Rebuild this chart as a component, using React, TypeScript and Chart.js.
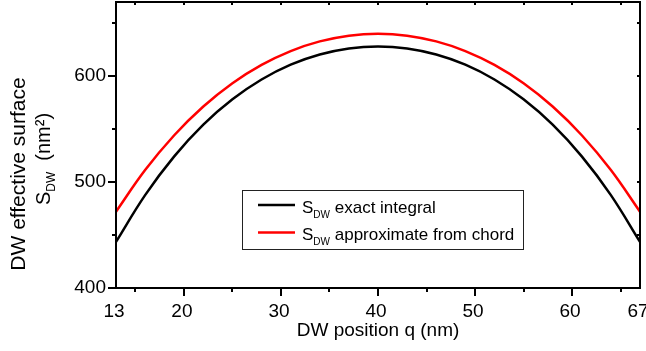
import React, { useEffect, useRef } from 'react';
import { Chart, registerables } from 'chart.js';

Chart.register(...registerables);

// DW position q (nm)
const positions = [13, 16, 19, 22, 25, 28, 31, 34, 37, 40, 43, 46, 49, 52, 55, 58, 61, 64, 67];
// S_DW exact integral (nm²)
const exactIntegral = [443.5, 487.7, 524.3, 554.2, 578.1, 596.8, 610.8, 620.4, 626.1, 628.0, 626.1, 620.4, 610.8, 596.8, 578.1, 554.2, 524.3, 487.7, 443.5];
// S_DW approximate from chord (nm²)
const approxChord = [472.0, 511.3, 544.2, 571.3, 593.3, 610.6, 623.7, 632.8, 638.2, 640.0, 638.2, 632.8, 623.7, 610.6, 593.3, 571.3, 544.2, 511.3, 472.0];

const xMin = 13;
const xMax = 67;
const yMin = 400;
const yMax = 670;
const xEndLabels = [13, 67];
const xMajorTicks = [20, 30, 40, 50, 60];
const xMinorTicks = [15, 25, 35, 45, 55, 65];
const yMajorTicks = [400, 500, 600];
const yMinorTicks = [450, 550, 650];

const FONT = "'Liberation Sans', Arial, sans-serif";

const decorPlugin = {
  id: 'decor',
  afterDatasetsDraw(chart: any) {
    const { ctx, chartArea: a, scales } = chart;
    const x = scales.x;
    const y = scales.y;
    ctx.save();
    ctx.strokeStyle = '#000';
    ctx.lineWidth = 2;
    ctx.strokeRect(a.left, a.top, a.right - a.left, a.bottom - a.top);

    ctx.beginPath();
    for (const v of xMajorTicks) {
      const p = Math.round(x.getPixelForValue(v));
      ctx.moveTo(p, a.bottom); ctx.lineTo(p, a.bottom + 8);
      ctx.moveTo(p, a.top); ctx.lineTo(p, a.top + 3);
    }
    for (const v of xMinorTicks) {
      const p = Math.round(x.getPixelForValue(v));
      ctx.moveTo(p, a.bottom); ctx.lineTo(p, a.bottom + 4);
      ctx.moveTo(p, a.top); ctx.lineTo(p, a.top + 3);
    }
    for (const v of yMajorTicks) {
      const p = Math.round(y.getPixelForValue(v));
      ctx.moveTo(a.left, p); ctx.lineTo(a.left - 8, p);
      ctx.moveTo(a.right, p); ctx.lineTo(a.right - 3, p);
    }
    for (const v of yMinorTicks) {
      const p = Math.round(y.getPixelForValue(v));
      ctx.moveTo(a.left, p); ctx.lineTo(a.left - 4, p);
      ctx.moveTo(a.right, p); ctx.lineTo(a.right - 3, p);
    }
    ctx.stroke();

    // legend
    const lx = a.left + 126;
    const ly = a.top + 188;
    ctx.lineWidth = 1;
    ctx.strokeStyle = '#222';
    ctx.strokeRect(lx + 0.5, ly + 0.5, 281, 59);
    const items = [
      { color: '#000000', text: ' exact integral' },
      { color: '#ff0000', text: ' approximate from chord' },
    ];
    items.forEach((it, i) => {
      const cy = ly + 15 + i * 27.5;
      ctx.strokeStyle = it.color;
      ctx.lineWidth = 2.5;
      ctx.beginPath();
      ctx.moveTo(lx + 16, cy);
      ctx.lineTo(lx + 53, cy);
      ctx.stroke();
      ctx.fillStyle = '#000';
      ctx.textBaseline = 'alphabetic';
      ctx.textAlign = 'left';
      let tx = lx + 60;
      const by = cy + 7.5;
      ctx.font = `17px ${FONT}`;
      ctx.fillText('S', tx, by);
      tx += ctx.measureText('S').width;
      ctx.font = `10px ${FONT}`;
      ctx.fillText('DW', tx, by + 5);
      tx += ctx.measureText('DW').width;
      ctx.font = `17px ${FONT}`;
      ctx.fillText(it.text, tx, by);
    });

    // y-axis title (two lines, rotated)
    ctx.fillStyle = '#000';
    ctx.save();
    ctx.translate(25, 174);
    ctx.rotate(-Math.PI / 2);
    ctx.font = `21px ${FONT}`;
    ctx.textAlign = 'center';
    ctx.fillText('DW effective surface', 0, 0);
    ctx.restore();

    ctx.save();
    ctx.translate(50, 159);
    ctx.rotate(-Math.PI / 2);
    ctx.textAlign = 'left';
    const mainFont = `20px ${FONT}`;
    const subFont = `12px ${FONT}`;
    ctx.font = mainFont;
    const wS = ctx.measureText('S').width;
    const rest = '  (nm²)';
    const wR = ctx.measureText(rest).width;
    ctx.font = subFont;
    const wD = ctx.measureText('DW').width;
    let t = -(wS + wD + wR) / 2;
    ctx.font = mainFont;
    ctx.fillText('S', t, 0);
    t += wS;
    ctx.font = subFont;
    ctx.fillText('DW', t, 5);
    t += wD;
    ctx.font = mainFont;
    ctx.fillText(rest, t, 0);
    ctx.restore();

    ctx.restore();
  },
};

export default function App() {
  const ref = useRef<HTMLCanvasElement | null>(null);

  useEffect(() => {
    if (!ref.current) return;
    const chart = new Chart(ref.current, {
      type: 'line',
      data: {
        datasets: [
          {
            label: 'S_DW exact integral',
            data: positions.map((q, i) => ({ x: q, y: exactIntegral[i] })),
            borderColor: '#000000',
            borderWidth: 2.5,
            pointRadius: 0,
            tension: 0.4,
            fill: false,
          },
          {
            label: 'S_DW approximate from chord',
            data: positions.map((q, i) => ({ x: q, y: approxChord[i] })),
            borderColor: '#ff0000',
            borderWidth: 2.5,
            pointRadius: 0,
            tension: 0.4,
            fill: false,
          },
        ],
      },
      options: {
        animation: false,
        responsive: false,
        layout: { padding: { top: 2, right: 6, left: 0, bottom: 0 } },
        plugins: { legend: { display: false }, tooltip: { enabled: false } },
        scales: {
          x: {
            type: 'linear',
            min: xMin,
            max: xMax,
            afterBuildTicks: (s: any) => {
              s.ticks = [...xEndLabels, ...xMajorTicks, ...xMinorTicks]
                .sort((p, q) => p - q)
                .map((v) => ({ value: v }));
            },
            afterFit: (s: any) => {
              s.height = 63;
              s.paddingLeft = 0;
              s.paddingRight = 0;
            },
            grid: { display: false, drawTicks: false },
            border: { display: false },
            ticks: {
              autoSkip: false,
              maxRotation: 0,
              padding: 12,
              labelOffset: -2,
              color: '#000',
              font: { family: FONT, size: 19 },
              callback: (v: any) =>
                xEndLabels.includes(v) || xMajorTicks.includes(v) ? String(v) : '',
            },
            title: {
              display: true,
              text: 'DW position q (nm)',
              color: '#000',
              font: { family: FONT, size: 19 },
              padding: { top: 0, bottom: 9 },
            },
          },
          y: {
            type: 'linear',
            min: yMin,
            max: yMax,
            afterBuildTicks: (s: any) => {
              s.ticks = [...yMajorTicks, ...yMinorTicks]
                .sort((p, q) => p - q)
                .map((v) => ({ value: v }));
            },
            afterFit: (s: any) => {
              s.width = 116;
              s.paddingTop = 0;
              s.paddingBottom = 0;
            },
            grid: { display: false, drawTicks: false },
            border: { display: false },
            ticks: {
              autoSkip: false,
              padding: 10,
              color: '#000',
              font: { family: FONT, size: 19 },
              callback: (v: any) => (yMajorTicks.includes(v) ? String(v) : ''),
            },
          },
        },
      },
      plugins: [decorPlugin],
    });
    return () => chart.destroy();
  }, []);

  return (
    <canvas
      ref={ref}
      width={646}
      height={351}
      style={{ position: 'fixed', left: 0, top: 0, display: 'block', background: '#fff' }}
    />
  );
}
